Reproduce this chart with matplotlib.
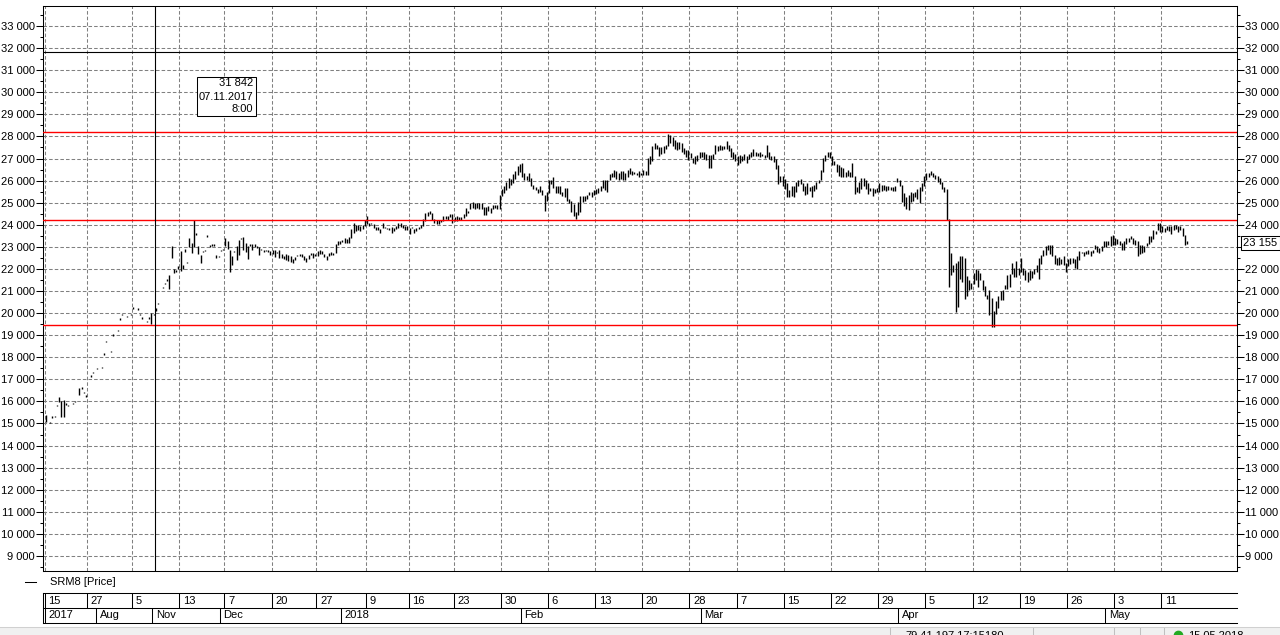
import numpy as np
import matplotlib
matplotlib.use("Agg")
import matplotlib.pyplot as plt
from matplotlib.ticker import MultipleLocator, FuncFormatter
from matplotlib.patches import Rectangle
from matplotlib.lines import Line2D

nan = np.nan

# ---------------- data: bar highs / lows, segment by segment ----------------
high_jul_nov = [15350, nan, 15050, 15300, 15330, 15800, 16200, 16000, 16050, 15880,
                15800, nan, 15900, 16000, nan, 16600, 16600, 16400, 16250, nan,
                17150, 17300, nan, 17500, nan, 17550, 18150, 18700, nan, 18250,
                19000, nan, 19200, 19730, 19950, nan, 19850, nan, 19930, 20230,
                nan, 20180, 19950, 19770, nan, 19620, 19770, 20000, 19930, 20230,
                20430, nan, 21170, 21350, 21500]
low_jul_nov = [15100, nan, 15050, 15300, 15330, 15800, 16000, 15300, 15300, 15880,
               15800, nan, 15900, 16000, nan, 16300, 16600, 16400, 16250, nan,
               17150, 17300, nan, 17500, nan, 17550, 18150, 18700, nan, 18250,
               19000, nan, 19200, 19730, 19950, nan, 19850, nan, 19930, 20230,
               nan, 20180, 19950, 19770, nan, 19620, 19770, 19500, 19930, 20100,
               20430, nan, 21170, 21350, 21500]

high_nov_jan = [21700, 23040, 22000, 21950, 22100, 22800, 22150, 22900, 22280, 23380,
                23150, 24200, 23580, 23000, 22630, 22780, 22830, 23490, 23040, 23080,
                23080, 22630, 22550, 22830, 22890, 23380, 23230, 22830, 22580, 22780,
                23000, 23300, 23380, 23410, 23150, 23000, 23080, 23130, 23130, 23040,
                22970, 22890, 22860, 22830, 22810, 22780, 22830, 22830, 22740, 22830,
                22680, 22580, 22660, 22600, 22550, 22430, 22520, 22600, 22630, 22660,
                22550, 22480, 22630, 22680, 22700, 22630, 22780, 22830, 22780, 22680,
                22550, 22700, 22740, 22700, 23130, 23260, 23260, 23300, 23380, 23350, 23410]
low_nov_jan = [21100, 22530, 21830, 21870, 22000, 21900, 22000, 22800, 22280, 23000,
               22740, 23000, 23580, 22700, 22280, 22780, 22830, 23490, 23040, 23080,
               23080, 22520, 22550, 22830, 22890, 23040, 22930, 21890, 22180, 22780,
               22400, 22630, 23380, 22890, 22780, 22480, 23080, 22890, 23000, 22970,
               22630, 22890, 22780, 22830, 22810, 22630, 22700, 22550, 22740, 22520,
               22520, 22480, 22430, 22370, 22330, 22280, 22400, 22600, 22630, 22550,
               22430, 22330, 22480, 22680, 22520, 22630, 22580, 22700, 22680, 22550,
               22430, 22580, 22630, 22630, 22740, 23080, 23160, 23230, 23190, 23200, 23200]

high_jan = [23770, 24050, 23970, 23970, 23920, 23970, 24200, 24380, 24050, 24050,
            24000, 23890, 23890, 23770, 24050, 23890, 23860, 23860, 23890, 23860,
            23920, 24050, 24050, 23970, 23920, 23920, 23860, 23890, 23770, 23820,
            23890, 23970, 24230, 24500, 24580, 24620, 24500, 24230, 24200, 24200,
            24200, 24380, 24380, 24380, 24470, 24470, 24350, 24380, 24320, 24350,
            24470, 24730, 24620, 24980, 25030, 24980, 24980, 24980, 24980, 24770,
            24770, 24830, 24730, 24880, 24880, 24880, 25330,
            25600, 25750, 25900, 26100, 26050, 26300, 26400, 26650, 26750]
low_jan = [23410, 23620, 23740, 23770, 23710, 23820, 23970, 24050, 23970, 24050,
           23860, 23770, 23770, 23620, 23860, 23890, 23820, 23770, 23620, 23710,
           23820, 23890, 23920, 23890, 23770, 23770, 23590, 23890, 23620, 23740,
           23820, 23890, 23970, 24200, 24420, 24500, 24230, 24080, 24050, 24050,
           24120, 24170, 24270, 24230, 24350, 24080, 24170, 24170, 24230, 24230,
           24320, 24420, 24530, 24730, 24770, 24730, 24770, 24730, 24730, 24470,
           24470, 24650, 24530, 24730, 24770, 24730, 24730,
           25300, 25450, 25600, 25700, 25800, 25900, 26100, 26250, 26400]

high_feb = [26770, 26320, 26200, 26350, 26100, 25790, 25690, 25600, 25720, 25540,
            25340, 25490, 25990, 26020, 26140, 25720, 25750, 25720, 25450, 25640,
            25640, 25140, 25040, 24930, 24540, 25000, 25270, 25270, 25300, 25340,
            25450, 25490, 25570, 25600, 25640, 25750, 25990, 26020, 26020, 26290,
            26350, 26470, 26400, 26320, 26400, 26400, 26320, 26450, 26550, 26400,
            26350, 26350, 26400, 26350, 26450, 26400, 27000, 27080, 27560, 27680,
            27600, 27500, 27500, 27560, 27600, 28100, 28060, 27950, 27830, 27750,
            27750, 27680, 27450, 27350, 27380, 27230, 27000, 27080, 27150, 27300]
low_feb = [26170, 26020, 26050, 25990, 25750, 25640, 25570, 25450, 25490, 25340,
           24660, 25110, 25450, 25870, 25690, 25450, 25450, 25420, 25300, 25270,
           25110, 24990, 24590, 24390, 24280, 24440, 24590, 25040, 25110, 25190,
           25340, 25270, 25340, 25420, 25450, 25540, 25690, 25600, 25490, 26020,
           26170, 26170, 26100, 26020, 26100, 26020, 26050, 26170, 26320, 26290,
           26350, 26290, 26170, 26250, 26290, 26250, 26250, 26770, 26920, 27450,
           27450, 27150, 27200, 27260, 27450, 27600, 27710, 27600, 27450, 27380,
           27450, 27300, 27200, 27080, 26950, 27050, 26800, 26770, 26900, 27050]

high_mar = [27300, 27260, 27200, 27150, 27150, 27200, 27600, 27560, 27600, 27530,
            27560, 27800, 27600, 27450, 27300, 27200, 27080, 27150, 27110, 27200,
            27110, 27200, 27260, 27410, 27300, 27230, 27260, 27200, 27150, 27600,
            27260, 27110, 27080, 26950, 26700, 26170, 26170, 26050, 25860, 25560,
            25740, 25740, 25940, 26020, 26050, 25890, 25740, 25860, 25680, 25740,
            25790, 25940, 26020, 26470, 27000, 27150, 27260, 27260, 27100, 26890,
            26740, 26700, 26590, 26550, 26390, 26470, 26390, 26770, 26170, 25710,
            25940, 26090, 26090, 26020, 25890, 25640, 25640, 25590, 25640, 25860,
            25790, 25790, 25740, 25740, 25710, 25710, 25740, 26090, 26020, 25790,
            25410, 25260, 25330, 25480, 25410, 25480, 25590, 25710, 25860, 26170,
            26320, 26320, 26400, 26350, 26250, 26170, 26090,
            25900, 25700, 25600, 24240]
low_mar = [27080, 27000, 26950, 26590, 26590, 27000, 27200, 27350, 27410, 27410,
           27450, 27450, 27350, 27080, 27000, 26920, 26700, 26800, 26920, 26950,
           26800, 27000, 27080, 27150, 27110, 27110, 27080, 27110, 27050, 27080,
           27000, 26950, 26850, 26550, 25860, 25940, 25790, 25640, 25290, 25260,
           25330, 25260, 25480, 25790, 25860, 25560, 25380, 25410, 25560, 25260,
           25530, 25640, 25890, 26020, 26390, 26920, 27080, 27050, 26700, 26700,
           26390, 26240, 26170, 26170, 26170, 26240, 26170, 26170, 25410, 25480,
           25440, 25640, 25790, 25640, 25410, 25530, 25330, 25440, 25480, 25480,
           25530, 25590, 25530, 25590, 25590, 25530, 25560, 25940, 25790, 25030,
           24880, 24730, 24680, 25030, 25110, 25260, 25180, 24980, 25530, 25790,
           26020, 26170, 26250, 26170, 26090, 25940, 25860,
           25650, 25500, 24240, 21190]

high_apr_may = [22700, 22170, 22250, 22330, 22550, 22550, 22480, 21650, 21500, 21340,
                21800, 21980, 21920, 21800, 21500, 21220, 20810, 21040, 20660, 20060,
                20510, 20740, 20970, 21040, 21270, 21720, 21760, 22250, 22020, 22330,
                22020, 22480, 22020, 21950, 21830, 21950, 21870, 21980, 22170, 22480,
                22630, 22820, 23040, 23080, 23080, 23080, 22630, 22480, 22520, 22430,
                22550, 22250, 22430, 22480, 22480, 22430, 22580, 22780, 22780, 22730,
                22780, 22850, 22780, 22850, 23080, 23040, 22930, 23000, 23230, 23230,
                23230, 23460, 23530, 23380, 23340, 23270, 23160, 23230, 23380, 23380,
                23460, 23380, 23310, 23230, 23080, 23080, 23040, 23160, 23460, 23460,
                23760, 23690, 24060, 24060, 23940, 23840, 23940, 23910, 23910, 23990,
                23990, 23940, 23910, 23840, 23530, 23230]
low_apr_may = [21720, 21870, 20060, 20280, 21570, 21420, 20660, 20810, 21040, 21120,
               21340, 21500, 21190, 21500, 21040, 20810, 20660, 19910, 19380, 19380,
               19990, 20250, 20590, 20590, 21120, 21120, 21190, 21800, 21650, 21650,
               21720, 21870, 21720, 21500, 21420, 21530, 21610, 21800, 21870, 21570,
               22250, 22580, 22630, 22850, 22700, 22580, 22220, 22180, 22180, 22250,
               22180, 21870, 22130, 22220, 22280, 22070, 22020, 22400, 22730, 22580,
               22670, 22700, 22580, 22730, 22930, 22780, 22740, 22820, 23000, 23000,
               23080, 23040, 23080, 23080, 23160, 23080, 22850, 22850, 23160, 23230,
               23380, 23160, 23120, 22580, 22700, 22730, 22780, 23040, 23160, 23230,
               23380, 23580, 23760, 23690, 23690, 23690, 23760, 23730, 23610, 23760,
               23840, 23690, 23760, 23490, 23080, 23160]

# time-axis labels (bar index where each label period starts)
week_start_bar = [0, 19, 39, 60, 80, 101, 121, 143, 162, 182, 203, 224, 245,
                  266, 287, 308, 329, 350, 371, 392, 413, 434, 455, 476, 497]
week_labels = ["15", "27", "5", "13", "7", "20", "27", "9", "16", "23", "30", "6",
               "13", "20", "28", "7", "15", "22", "29", "5", "12", "19", "26", "3", "11"]
month_start_bar = [0, 23, 48, 78, 132, 212, 292, 380, 472]
month_labels = ["2017", "Aug", "Nov", "Dec", "2018", "Feb", "Mar", "Apr", "May"]

level_lines = [28180, 24213, 19457]
cursor_price = 31842
cursor_bar = 48.7
cursor_date = "07.11.2017"
cursor_time = "8:00"
last_price = 23155
series_name = "SRM8 [Price]"

# ---------------- drawing ----------------
W, H = 1280, 635
plt.rcParams['font.family'] = ['Liberation Sans', 'DejaVu Sans']
plt.rcParams['font.size'] = 8


def fx(p):
    return p / W


def fy(p):
    return 1 - p / H


def fmt_num(v):
    return f"{int(round(v)):,}".replace(",", " ")


fig = plt.figure(figsize=(W / 100, H / 100), dpi=100)
fig.patch.set_facecolor('white')

ax = fig.add_axes([fx(43), fy(571), (1237 - 43) / W, (571 - 6) / H])

high = np.concatenate([high_jul_nov, high_nov_jan, high_jan, high_feb, high_mar, high_apr_may]).astype(float)
low = np.concatenate([low_jul_nov, low_nov_jan, low_jan, low_feb, low_mar, low_apr_may]).astype(float)
xb = np.arange(len(high))
ok = ~np.isnan(high)

# make single-price bars visible as small dots
mid = (high + low) / 2
span = np.maximum(high - low, 60)
top = np.where(high - low < 60, mid + span / 2, high + 15)
bot = np.where(high - low < 60, mid - span / 2, low - 15)

XLIM = (-1.2, 530.2)
YLIM = (8320, 33906)
ax.set_xlim(*XLIM)
ax.set_ylim(*YLIM)

dash = (0, (3.4, 2.0))
grid_kw = dict(color='#808080', lw=0.75, zorder=1)
for v in range(9000, 34000, 1000):
    ax.axhline(v, ls=dash, **grid_kw)
ax.vlines(np.array(week_start_bar) - 0.5, YLIM[0], YLIM[1], linestyles=[dash], **grid_kw)

ax.vlines(xb[ok], bot[ok], top[ok], color='black', lw=1.0, zorder=3)

for lv in level_lines:
    ax.axhline(lv, color='#ff0000', lw=1.0, zorder=4)
ax.axhline(cursor_price, color='black', lw=0.8, zorder=4)
ax.axvline(cursor_bar, color='black', lw=0.8, zorder=4)

ax.set_xticks([])
ax.yaxis.set_major_locator(MultipleLocator(1000))
ax.yaxis.set_minor_locator(MultipleLocator(500))
ax.yaxis.set_major_formatter(FuncFormatter(lambda v, p: fmt_num(v)))
ax.tick_params(axis='y', which='both', left=True, right=True, labelleft=True,
               labelright=True, direction='out', width=0.75, color='black',
               labelsize=8, pad=0.8)
ax.tick_params(axis='y', which='major', length=5)
ax.tick_params(axis='y', which='minor', length=2.4)
for sp in ax.spines.values():
    sp.set_linewidth(0.75)
    sp.set_color('black')

ax.annotate(fmt_num(last_price), xy=(1, last_price), xycoords=('axes fraction', 'data'),
            xytext=(4.6, 0), textcoords='offset points', ha='left', va='center',
            fontsize=8, annotation_clip=False, zorder=6,
            bbox=dict(boxstyle='square,pad=0.18', fc='white', ec='black', lw=0.75))

# cursor tooltip
fig.patches.append(Rectangle((fx(197), fy(116)), fx(256) - fx(197), fy(77) - fy(116),
                             transform=fig.transFigure, fc='white', ec='black',
                             lw=0.75, zorder=10))
for txt, py in zip([fmt_num(cursor_price), cursor_date, cursor_time], [83.5, 96.5, 109.5]):
    fig.text(fx(253.5), fy(py), txt, ha='right', va='center', fontsize=8, zorder=11)

# legend row
fig.add_artist(Line2D([fx(25), fx(36)], [fy(582), fy(582)], color='black', lw=0.75,
                      transform=fig.transFigure))
fig.text(fx(50), fy(582), series_name, ha='left', va='center', fontsize=8)

# date strip
sx = fig.add_axes([fx(43), fy(623), (1237 - 43) / W, 30 / H])
sx.set_xlim(*XLIM)
sx.set_ylim(0, 2)
sx.axis('off')
for yv in (0, 1, 2):
    sx.axhline(yv, color='black', lw=0.75, clip_on=False)
sx.plot([0, 0], [0, 1], transform=sx.transAxes, color='black', lw=0.75, clip_on=False)
sx.vlines(np.array(week_start_bar) - 0.5, 1, 2, color='black', lw=0.75)
sx.vlines(np.array(month_start_bar) - 0.5, 0, 1, color='black', lw=0.75)
for b, t in zip(week_start_bar, week_labels):
    sx.annotate(t, (b - 0.5, 1.5), xytext=(2.6, 0), textcoords='offset points',
                ha='left', va='center', fontsize=8)
for b, t in zip(month_start_bar, month_labels):
    sx.annotate(t, (b - 0.5, 0.5), xytext=(2.6, 0), textcoords='offset points',
                ha='left', va='center', fontsize=8)

# status bar (cut off at the bottom of the window)
fig.patches.append(Rectangle((0, 0), 1, fy(627), transform=fig.transFigure,
                             fc='#f0f0f0', ec='none', zorder=1))
fig.add_artist(Line2D([0, 1], [fy(627), fy(627)], color='#d0d0d0', lw=0.75,
                      transform=fig.transFigure))
for px in (890, 1033, 1114, 1140, 1164):
    fig.add_artist(Line2D([fx(px), fx(px)], [0, fy(628)], color='#c0c0c0', lw=0.75,
                          transform=fig.transFigure))
fig.add_artist(Line2D([fx(1178)], [fy(635)], marker='o', ms=6, color='#22aa22',
                      transform=fig.transFigure))
fig.text(fx(905), fy(631), "79.41.197.17:15180", ha='left', va='top', fontsize=8)
fig.text(fx(1188), fy(631), "15.05.2018", ha='left', va='top', fontsize=8)

# the last-price box covers the right-hand label underneath it
fig.canvas.draw()
for tk in ax.yaxis.get_major_ticks():
    if abs(tk.get_loc() - 23000) < 1:
        tk.label2.set_visible(False)

fig.savefig("out.png", dpi=100)
